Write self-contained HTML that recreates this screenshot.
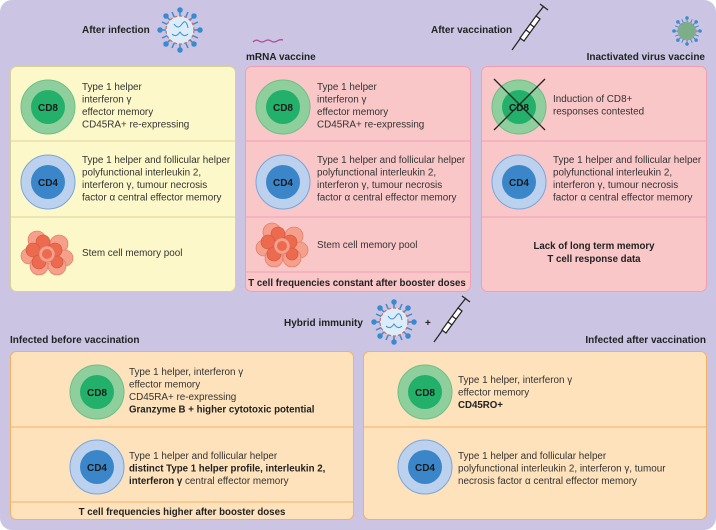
<!DOCTYPE html>
<html><head><meta charset="utf-8"><style>
html,body{margin:0;padding:0;background:#fff;}
svg{display:block;font-family:"Liberation Sans",sans-serif;}
.t{font-size:9.9px;fill:#333;}
.b{font-size:9.7px;fill:#222;font-weight:bold;}
.h{font-size:10px;fill:#222;font-weight:bold;}
.c{font-size:10px;font-weight:bold;fill:#1a1a1a;text-anchor:middle;}
</style></head><body>
<svg width="716" height="530" viewBox="0 0 716 530">
<defs>
<g id="cd8"><circle r="27" fill="#8fcf9e" stroke="#6fbf85" stroke-width="1"/><circle r="17" fill="#22b06a"/></g>
<g id="cd4"><circle r="27" fill="#bcd1ee" stroke="#7aa5da" stroke-width="1"/><circle r="17" fill="#3a86c8"/></g>
<g id="pool">
<circle cx="-10" cy="-12" r="9" fill="#f4a08a" stroke="#e07060" stroke-width=".6"/>
<circle cx="12" cy="-8" r="9" fill="#f4a08a" stroke="#e07060" stroke-width=".6"/>
<circle cx="18" cy="6" r="8" fill="#f4a08a" stroke="#e07060" stroke-width=".6"/>
<circle cx="-18" cy="4" r="8" fill="#f4a08a" stroke="#e07060" stroke-width=".6"/>
<circle cx="-8" cy="14" r="9" fill="#f4a08a" stroke="#e07060" stroke-width=".6"/>
<circle cx="10" cy="14" r="9" fill="#f4a08a" stroke="#e07060" stroke-width=".6"/>
<circle cx="-4" cy="-10" r="7" fill="#ec6a4e" stroke="#d05040" stroke-width=".6"/>
<circle cx="8" cy="-2" r="7" fill="#ec6a4e" stroke="#d05040" stroke-width=".6"/>
<circle cx="-14" cy="-2" r="7" fill="#ec6a4e" stroke="#d05040" stroke-width=".6"/>
<circle cx="-8" cy="10" r="7" fill="#ec6a4e" stroke="#d05040" stroke-width=".6"/>
<circle cx="10" cy="10" r="6" fill="#ec6a4e" stroke="#d05040" stroke-width=".6"/>
<circle cx="0" cy="2" r="8" fill="#f4a08a" stroke="#e07060" stroke-width=".6"/>
<circle cx="0" cy="2" r="5" fill="#ec6a4e"/>
</g>
<g id="virus" stroke="#3a8ad0" stroke-width="1.5" fill="#3a8ad0">
<line x1="-20" y1="0" x2="20" y2="0"/><line x1="0" y1="-20" x2="0" y2="20"/>
<line x1="-14" y1="-14" x2="14" y2="14"/><line x1="-14" y1="14" x2="14" y2="-14"/>
<line x1="-18" y1="-8" x2="18" y2="8"/><line x1="-18" y1="8" x2="18" y2="-8"/>
<line x1="-8" y1="-18" x2="8" y2="18"/><line x1="-8" y1="18" x2="8" y2="-18"/>
<circle r="14" fill="#dcecf8" stroke="#c07070" stroke-width="1.2" stroke-dasharray="3 2"/>
<path d="M-6,-6 q4,6 8,0 q4,-6 6,4 M-8,4 q4,4 8,-2 q4,6 8,2" fill="none" stroke-width="1"/>
<circle cx="-20" cy="0" r="2"/><circle cx="20" cy="0" r="2"/><circle cx="0" cy="-20" r="2"/><circle cx="0" cy="20" r="2"/>
<circle cx="-14" cy="-14" r="2"/><circle cx="14" cy="14" r="2"/><circle cx="-14" cy="14" r="2"/><circle cx="14" cy="-14" r="2"/>
</g>
<g id="syr" stroke="#222" stroke-width="1.2" fill="none">
<line x1="-16" y1="22" x2="-6" y2="8"/>
<path d="M-8,10 L8,-12 L12,-9 L-4,13 Z" fill="#fff"/>
<line x1="8" y1="-12" x2="16" y2="-22"/><line x1="12" y1="-24" x2="20" y2="-18"/>
<line x1="-2" y1="2" x2="2" y2="5"/><line x1="2" y1="-4" x2="6" y2="-1"/>
</g>
</defs>
<rect x="0" y="0" width="716" height="530" rx="12" fill="#cbc5e3"/>

<text class="h" x="82" y="33">After infection</text>
<use href="#virus" x="180" y="30"/>
<text class="h" x="431" y="33">After vaccination</text>
<use href="#syr" x="528" y="28"/>
<path d="M253,42 q3,-3 6,-1 q3,2 6,0 q3,-2 6,0 q3,2 6,0 q3,-2 6,-1" fill="none" stroke="#b04a9a" stroke-width="1.3"/>
<text class="h" x="246" y="60">mRNA vaccine</text>
<g transform="translate(687,31) scale(0.65)"><use href="#virus" style="stroke:#3a9a6a"/></g>
<circle cx="687" cy="31" r="9" fill="#7cae8a"/>
<text class="h" x="705" y="60" text-anchor="end">Inactivated virus vaccine</text>

<rect x="10.5" y="66.5" width="225" height="225" rx="6" fill="#fdf8c9" stroke="#d8d09a"/>
<line x1="11" y1="141" x2="235" y2="141" stroke="#ddd3a0"/>
<line x1="11" y1="217" x2="235" y2="217" stroke="#ddd3a0"/>
<rect x="245.5" y="66.5" width="225" height="225" rx="6" fill="#f9c7c8" stroke="#ef9fb4"/>
<line x1="246" y1="141" x2="470" y2="141" stroke="#ef9fb4"/>
<line x1="246" y1="217" x2="470" y2="217" stroke="#ef9fb4"/>
<line x1="246" y1="272" x2="470" y2="272" stroke="#ef9fb4"/>
<rect x="481.5" y="66.5" width="225" height="225" rx="6" fill="#f9c7c8" stroke="#ef9fb4"/>
<line x1="482" y1="141" x2="706" y2="141" stroke="#ef9fb4"/>
<line x1="482" y1="217" x2="706" y2="217" stroke="#ef9fb4"/>

<use href="#cd8" x="48" y="107"/><text class="c" x="48" y="111">CD8</text>
<text class="t" x="82" y="90">Type 1 helper</text><text class="t" x="82" y="102.5">interferon γ</text><text class="t" x="82" y="115">effector memory</text><text class="t" x="82" y="127.5">CD45RA+ re-expressing</text>
<use href="#cd4" x="48" y="182"/><text class="c" x="48" y="186">CD4</text>
<text class="t" x="82" y="163">Type 1 helper and follicular helper</text><text class="t" x="82" y="175.5">polyfunctional interleukin 2,</text><text class="t" x="82" y="188">interferon γ, tumour necrosis</text><text class="t" x="82" y="200.5">factor α central effector memory</text>
<use href="#pool" x="47" y="252"/>
<text class="t" x="82" y="256">Stem cell memory pool</text>

<use href="#cd8" x="283" y="107"/><text class="c" x="283" y="111">CD8</text>
<text class="t" x="317" y="90">Type 1 helper</text><text class="t" x="317" y="102.5">interferon γ</text><text class="t" x="317" y="115">effector memory</text><text class="t" x="317" y="127.5">CD45RA+ re-expressing</text>
<use href="#cd4" x="283" y="182"/><text class="c" x="283" y="186">CD4</text>
<text class="t" x="317" y="163">Type 1 helper and follicular helper</text><text class="t" x="317" y="175.5">polyfunctional interleukin 2,</text><text class="t" x="317" y="188">interferon γ, tumour necrosis</text><text class="t" x="317" y="200.5">factor α central effector memory</text>
<use href="#pool" x="282" y="244"/>
<text class="t" x="317" y="248">Stem cell memory pool</text>
<text class="b" x="357" y="286" text-anchor="middle">T cell frequencies constant after booster doses</text>

<use href="#cd8" x="519" y="107"/><text class="c" x="519" y="111">CD8</text>
<line x1="494" y1="79" x2="545" y2="130" stroke="#222" stroke-width="1.3"/><line x1="545" y1="79" x2="494" y2="130" stroke="#222" stroke-width="1.3"/>
<text class="t" x="553" y="102">Induction of CD8+</text><text class="t" x="553" y="114.5">responses contested</text>
<use href="#cd4" x="519" y="182"/><text class="c" x="519" y="186">CD4</text>
<text class="t" x="553" y="163">Type 1 helper and follicular helper</text><text class="t" x="553" y="175.5">polyfunctional interleukin 2,</text><text class="t" x="553" y="188">interferon γ, tumour necrosis</text><text class="t" x="553" y="200.5">factor α central effector memory</text>
<text class="b" x="594" y="249" text-anchor="middle">Lack of long term memory</text>
<text class="b" x="594" y="262" text-anchor="middle">T cell response data</text>

<text class="h" x="284" y="326">Hybrid immunity</text>
<use href="#virus" x="394" y="322"/>
<text class="h" x="425" y="326">+</text>
<use href="#syr" x="450" y="320"/>
<text class="h" x="10" y="343">Infected before vaccination</text>
<text class="h" x="706" y="343" text-anchor="end">Infected after vaccination</text>

<rect x="10.5" y="351.5" width="343" height="168" rx="6" fill="#fde2bc" stroke="#f2b068"/>
<line x1="11" y1="427" x2="353" y2="427" stroke="#f2b068"/>
<line x1="11" y1="502" x2="353" y2="502" stroke="#f2b068"/>
<rect x="363.5" y="351.5" width="343" height="168" rx="6" fill="#fde2bc" stroke="#f2b068"/>
<line x1="364" y1="427" x2="706" y2="427" stroke="#f2b068"/>

<use href="#cd8" x="97" y="392"/><text class="c" x="97" y="396">CD8</text>
<text class="t" x="129" y="375">Type 1 helper, interferon γ</text><text class="t" x="129" y="387.5">effector memory</text><text class="t" x="129" y="400">CD45RA+ re-expressing</text><text class="b" x="129" y="412.5">Granzyme B + higher cytotoxic potential</text>
<use href="#cd4" x="97" y="467"/><text class="c" x="97" y="471">CD4</text>
<text class="t" x="129" y="459">Type 1 helper and follicular helper</text><text class="b" x="129" y="471.5">distinct Type 1 helper profile, interleukin 2,</text><text x="129" y="484" class="b">interferon γ <tspan class="t" style="font-weight:normal">central effector memory</tspan></text>
<text class="b" x="182" y="515" text-anchor="middle">T cell frequencies higher after booster doses</text>

<use href="#cd8" x="425" y="392"/><text class="c" x="425" y="396">CD8</text>
<text class="t" x="458" y="383">Type 1 helper, interferon γ</text><text class="t" x="458" y="395.5">effector memory</text><text class="b" x="458" y="408">CD45RO+</text>
<use href="#cd4" x="425" y="467"/><text class="c" x="425" y="471">CD4</text>
<text class="t" x="458" y="459">Type 1 helper and follicular helper</text><text class="t" x="458" y="471.5">polyfunctional interleukin 2, interferon γ, tumour</text><text class="t" x="458" y="484">necrosis factor α central effector memory</text>
</svg>
</body></html>
